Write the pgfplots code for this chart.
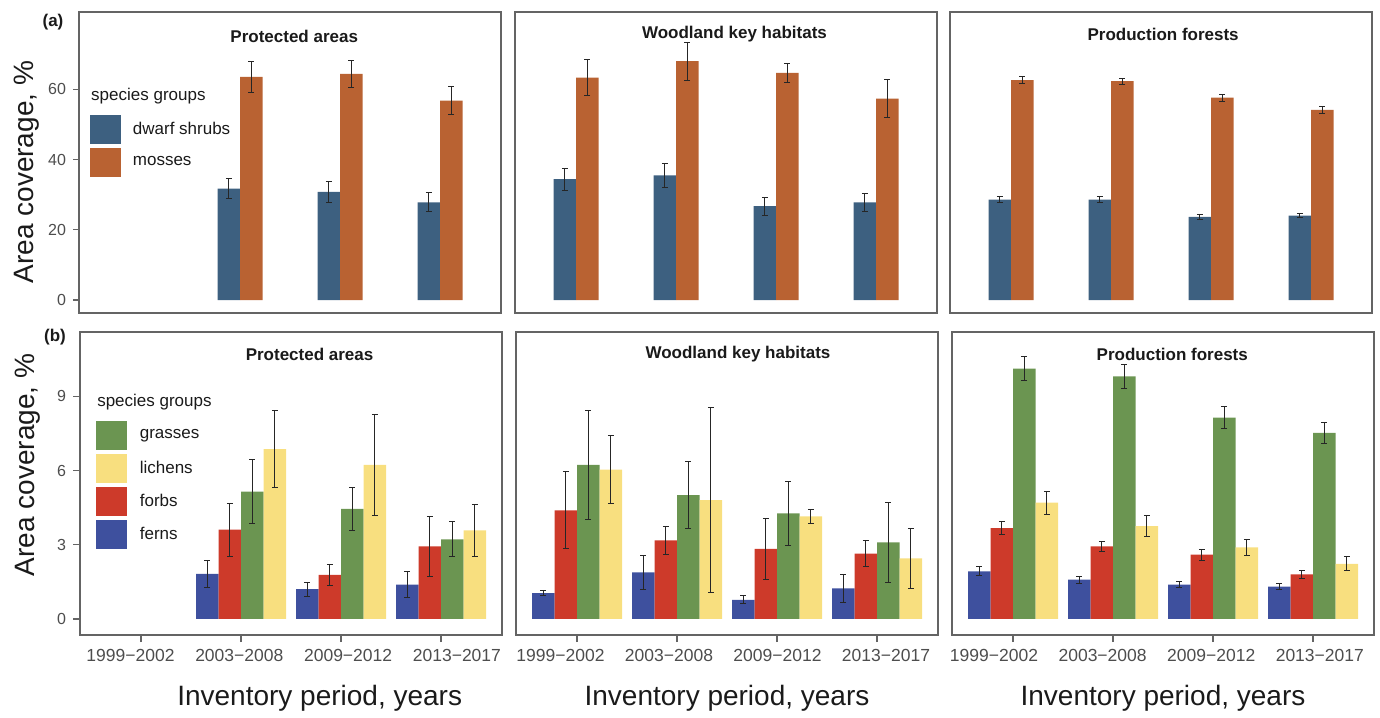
\documentclass[border=0pt]{standalone}
\usepackage{pgfplots}
\pgfplotsset{compat=1.18}
\usepackage{fontspec}
\setmainfont{Liberation Sans}

\definecolor{dwarf}{RGB}{61,96,128}
\definecolor{moss}{RGB}{185,98,50}
\definecolor{fern}{RGB}{62,80,158}
\definecolor{forb}{RGB}{205,58,42}
\definecolor{grass}{RGB}{107,149,81}
\definecolor{lichen}{RGB}{248,223,127}
\definecolor{framec}{RGB}{100,100,100}
\definecolor{tickc}{RGB}{77,77,77}
\definecolor{txt}{RGB}{26,26,26}

\pgfplotsset{
  panel/.style={
    scale only axis, width=211pt,
    xmin=-0.61, xmax=3.61,
    axis line style={draw=framec, line width=0.7pt},
    tick style={draw=framec, line width=0.6pt},
    tick align=outside, major tick length=3pt,
    xtick pos=bottom, ytick pos=left,
    /pgf/number format/assume math mode=true,
    yticklabel style={font=\fontsize{8}{9}\selectfont, text=tickc},
    xticklabel style={font=\fontsize{8.75}{10}\selectfont, text=tickc},
    title style={anchor=center, yshift=-17pt, inner sep=0pt,
      font=\bfseries\fontsize{8.5}{10}\selectfont, text=txt},
    ylabel style={font=\fontsize{14}{16}\selectfont, text=txt},
    xlabel style={font=\fontsize{14}{16}\selectfont, text=txt},
    legend image code/.code={\fill[##1, draw=none] (0pt,-7.25pt) rectangle (15.5pt,7.25pt); \path (21.5pt,0pt);},
    legend style={draw=none, fill=none, inner sep=0pt, row sep=2pt,
      column sep=0pt, font=\fontsize{8.5}{10}\selectfont, text=txt,
      nodes={inner sep=0pt, anchor=west}},
    legend cell align=left,
  },
  toprow/.style={panel, height=150.5pt, ymin=-3.7, ymax=82, xtick=\empty},
  % period ticks sit at 0..3; their names are set on separate, undrawn ticks
  botrow/.style={panel, height=151.5pt, ymin=-0.65, ymax=11.6,
    xtick={0,1,2,3}, xticklabels={},
    major tick length=3.5pt,
    extra x tick labels={1999−2002,2003−2008,2009−2012,2013−2017},
    extra x tick style={major tick style={draw=none}},
    xlabel={Inventory period, years},
    xlabel style={at={(axis description cs:0.5,0)}, anchor=base, yshift=-35pt}},
  errbar/.style={
    error bars/y dir=both, error bars/y explicit,
    error bars/error bar style={line width=0.5pt, black!85},
    error bars/error mark options={rotate=90, mark size=1.4pt, line width=0.5pt, black!85}},
}

% one bar series (x already offset within its period group), colour, coordinates with +- errors
\newcommand{\bars}[2]{\addplot[ybar, bar width=0.225, bar shift=0, fill=#1, draw=none, forget plot, errbar] coordinates {#2};}

\begin{document}
\begin{tikzpicture}
\path (0,0) rectangle (690pt,357pt);

% ---------------- (a) dwarf shrubs and mosses ----------------
\begin{axis}[toprow, at={(39.5pt,200.5pt)}, anchor=south west,
  title={Protected areas}, title style={at={(0.51,1)}, yshift=-1pt},
  ytick={0,20,40,60},
  ylabel={Area coverage, \%},
  ylabel style={at={(axis description cs:-0.125,0.468)}, anchor=center},
  legend style={at={(axis description cs:0.024,0.658)}, anchor=north west}]
\addlegendimage{fill=dwarf}\addlegendentry{dwarf shrubs}
\addlegendimage{fill=moss}\addlegendentry{mosses}
\bars{dwarf}{(0.8875,31.7) +- (0,2.9) (1.8875,30.8) +- (0,3.05) (2.8875,27.8) +- (0,2.7)}
\bars{moss}{(1.1125,63.5) +- (0,4.45) (2.1125,64.4) +- (0,3.85) (3.1125,56.8) +- (0,3.9)}
\node[anchor=west, font=\fontsize{8.5}{10}\selectfont, text=txt, inner sep=0pt]
  at (rel axis cs:0.028,0.721) {species groups};
\end{axis}

\begin{axis}[toprow, at={(257.5pt,200.5pt)}, anchor=south west,
  title={Woodland key habitats}, title style={at={(0.52,1)}}, ytick=\empty]
\bars{dwarf}{(-0.1125,34.4) +- (0,3.1) (0.8875,35.5) +- (0,3.4) (1.8875,26.7) +- (0,2.6) (2.8875,27.8) +- (0,2.5)}
\bars{moss}{(0.1125,63.3) +- (0,5.2) (1.1125,68.0) +- (0,5.4) (2.1125,64.7) +- (0,2.75) (3.1125,57.3) +- (0,5.35)}
\end{axis}

\begin{axis}[toprow, at={(475pt,200.5pt)}, anchor=south west,
  title={Production forests}, title style={at={(0.505,1)}}, ytick=\empty]
\bars{dwarf}{(-0.1125,28.6) +- (0,0.75) (0.8875,28.6) +- (0,0.85) (1.8875,23.7) +- (0,0.7) (2.8875,24.0) +- (0,0.65)}
\bars{moss}{(0.1125,62.6) +- (0,0.9) (1.1125,62.3) +- (0,0.9) (2.1125,57.6) +- (0,1.0) (3.1125,54.1) +- (0,1.0)}
\end{axis}

% ---------------- (b) ferns, forbs, grasses and lichens ----------------
\begin{axis}[botrow, at={(40pt,39.5pt)}, anchor=south west,
  title={Protected areas}, title style={at={(0.544,1)}},
  extra x ticks={-0.105,0.983,2.071,3.159},
  ytick={0,3,6,9},
  ylabel={Area coverage, \%},
  ylabel style={at={(axis description cs:-0.125,0.561)}, anchor=center},
  xlabel style={at={(axis description cs:0.568,0)}},
  legend style={at={(axis description cs:0.038,0.707)}, anchor=north west}]
\addlegendimage{fill=grass}\addlegendentry{grasses}
\addlegendimage{fill=lichen}\addlegendentry{lichens}
\addlegendimage{fill=forb}\addlegendentry{forbs}
\addlegendimage{fill=fern}\addlegendentry{ferns}
\bars{fern}{(0.6625,1.82) +- (0,0.53) (1.6625,1.20) +- (0,0.28) (2.6625,1.39) +- (0,0.52)}
\bars{forb}{(0.8875,3.61) +- (0,1.07) (1.8875,1.78) +- (0,0.42) (2.8875,2.93) +- (0,1.22)}
\bars{grass}{(1.1125,5.15) +- (0,1.29) (2.1125,4.45) +- (0,0.87) (3.1125,3.22) +- (0,0.71)}
\bars{lichen}{(1.3375,6.86) +- (0,1.56) (2.3375,6.23) +- (0,2.03) (3.3375,3.58) +- (0,1.05)}
\node[anchor=west, font=\fontsize{8.5}{10}\selectfont, text=txt, inner sep=0pt]
  at (rel axis cs:0.040,0.769) {species groups};
\end{axis}

\begin{axis}[botrow, at={(258pt,39.5pt)}, anchor=south west,
  title={Woodland key habitats}, title style={at={(0.526,1)}}, ytick=\empty,
  extra x ticks={-0.165,0.92,2.005,3.09}]
\bars{fern}{(-0.3375,1.04) +- (0,0.11) (0.6625,1.88) +- (0,0.68) (1.6625,0.77) +- (0,0.16) (2.6625,1.24) +- (0,0.57)}
\bars{forb}{(-0.1125,4.39) +- (0,1.56) (0.8875,3.18) +- (0,0.56) (1.8875,2.83) +- (0,1.22) (2.8875,2.64) +- (0,0.53)}
\bars{grass}{(0.1125,6.23) +- (0,2.19) (1.1125,5.01) +- (0,1.35) (2.1125,4.27) +- (0,1.30) (3.1125,3.10) +- (0,1.62)}
\bars{lichen}{(0.3375,6.04) +- (0,1.36) (1.3375,4.80) +- (0,3.75) (2.3375,4.15) +- (0,0.29) (3.3375,2.45) +- (0,1.22)}
\end{axis}

\begin{axis}[botrow, at={(476pt,39.5pt)}, anchor=south west,
  title={Production forests}, title style={at={(0.522,1)}}, ytick=\empty,
  extra x ticks={-0.19,0.896,1.982,3.068}]
\bars{fern}{(-0.3375,1.92) +- (0,0.18) (0.6625,1.59) +- (0,0.14) (1.6625,1.39) +- (0,0.11) (2.6625,1.31) +- (0,0.14)}
\bars{forb}{(-0.1125,3.67) +- (0,0.26) (0.8875,2.93) +- (0,0.20) (1.8875,2.60) +- (0,0.22) (2.8875,1.80) +- (0,0.16)}
\bars{grass}{(0.1125,10.12) +- (0,0.49) (1.1125,9.81) +- (0,0.49) (2.1125,8.14) +- (0,0.44) (3.1125,7.52) +- (0,0.43)}
\bars{lichen}{(0.3375,4.70) +- (0,0.46) (1.3375,3.75) +- (0,0.42) (2.3375,2.89) +- (0,0.34) (3.3375,2.23) +- (0,0.29)}
\end{axis}

\node[font=\bfseries\fontsize{8.5}{10}\selectfont, text=txt] at (26.5pt,346pt) {(a)};
\node[font=\bfseries\fontsize{8.5}{10}\selectfont, text=txt] at (27.5pt,188.5pt) {(b)};
\end{tikzpicture}
\end{document}
